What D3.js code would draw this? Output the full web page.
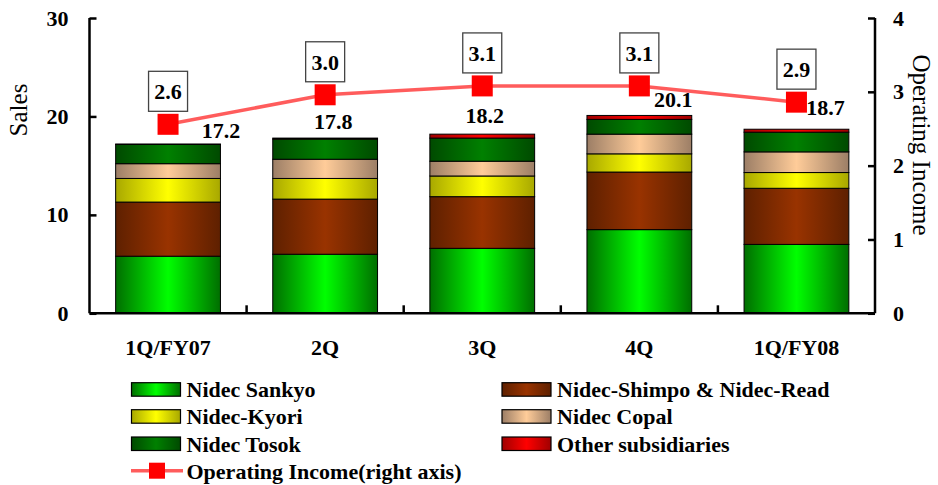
<!DOCTYPE html>
<html><head><meta charset="utf-8">
<script src="https://cdn.jsdelivr.net/npm/d3@7"></script>
<style>body{margin:0;background:#fff}</style>
</head><body><svg id="c" width="938" height="485"></svg>
<script>
const categories = ["1Q/FY07","2Q","3Q","4Q","1Q/FY08"];
const nidecSankyo = [5.8, 6.0, 6.6, 8.5, 7.0];
const nidecShimpoRead = [5.5, 5.6, 5.25, 5.85, 5.7];
const nidecKyori = [2.4, 2.1, 2.1, 1.85, 1.6];
const nidecCopal = [1.5, 1.95, 1.5, 2.0, 2.1];
const nidecTosok = [1.95, 2.05, 2.35, 1.5, 2.0];
const otherSubsidiaries = [0.05, 0.1, 0.4, 0.4, 0.3];
const salesTotals = [17.2, 17.8, 18.2, 20.1, 18.7];
const operatingIncome = [2.56, 2.96, 3.08, 3.08, 2.86];
const salesTicks = [0, 10, 20, 30];
const incomeTicks = [0, 1, 2, 3, 4];
const seriesNames = ["Nidec Sankyo","Nidec-Shimpo & Nidec-Read","Nidec-Kyori","Nidec Copal","Nidec Tosok","Other subsidiaries"];
const lineName = "Operating Income(right axis)";

const seriesValues = [nidecSankyo, nidecShimpoRead, nidecKyori, nidecCopal, nidecTosok, otherSubsidiaries];
const styles = [
  {edge:"#006e00", mid:"#00ff00"},
  {edge:"#5e2000", mid:"#993300"},
  {edge:"#a8a800", mid:"#ffff00"},
  {edge:"#9c7e66", mid:"#ffcc99"},
  {edge:"#004a00", mid:"#008000"},
  {edge:"#a00000", mid:"#ff0000"}
];

const svg = d3.select("#c");
const L = 89.5, R = 875, T = 18, B = 313.3;
const FONT = '"Liberation Serif", "Times New Roman", serif';

function txt(sel, size, bold){
  return sel.style("font-family", FONT).style("font-size", size+"px").style("font-weight", bold ? "bold" : "normal").attr("fill","#000");
}

const defs = svg.append("defs");
styles.forEach((s,i)=>{
  const g = defs.append("linearGradient").attr("id","g"+i).attr("x1","0").attr("x2","1").attr("y1","0").attr("y2","0");
  g.append("stop").attr("offset","0").attr("stop-color",s.edge);
  g.append("stop").attr("offset","0.5").attr("stop-color",s.mid);
  g.append("stop").attr("offset","1").attr("stop-color",s.edge);
});

const x = d3.scaleBand().domain(categories).range([L, R]).paddingInner(0.333).paddingOuter(0.1665);
const y = d3.scaleLinear().domain([0,30]).range([B, T]);
const yR = d3.scaleLinear().domain([0,4]).range([B, T]);

// stacked bars
const rows = categories.map((c,i)=>{ const o={cat:c}; seriesNames.forEach((n,k)=>o[n]=seriesValues[k][i]); return o; });
const stack = d3.stack().keys(seriesNames)(rows);
stack.forEach((layer,k)=>{
  svg.append("g").selectAll("rect").data(layer).join("rect")
    .attr("x", d=>x(d.data.cat))
    .attr("y", d=>y(d[1]))
    .attr("width", x.bandwidth())
    .attr("height", d=>y(d[0])-y(d[1]))
    .attr("fill", "url(#g"+k+")")
    .attr("stroke", "#000").attr("stroke-width", 1);
});

// axes
const axL = svg.append("g").attr("transform",`translate(${L},0)`)
  .call(d3.axisLeft(y).tickValues(salesTicks).tickFormat(d3.format("d")).tickSize(-7).tickPadding(21));
const axR = svg.append("g").attr("transform",`translate(${R},0)`)
  .call(d3.axisRight(yR).tickValues(incomeTicks).tickFormat(d3.format("d")).tickSize(-7).tickPadding(18));
const axB = svg.append("g").attr("transform",`translate(0,${B})`)
  .call(d3.axisBottom(x).tickSize(0).tickPadding(26));
[axL, axR, axB].forEach(a=>{
  a.select(".domain").attr("stroke","#000").attr("stroke-width",2.5);
  a.selectAll(".tick line").attr("stroke","#000").attr("stroke-width",2.5);
  txt(a.selectAll("text"), 22, true);
});
axL.select(".domain").attr("d",`M0,${T}V${B}`);
axR.select(".domain").attr("d",`M0,${T}V${B}`);
axB.select(".domain").attr("d",`M${L},0H${R}`);
// category boundary ticks on x axis
svg.append("g").selectAll("line").data(categories.slice(1)).join("line")
  .attr("x1", d=>x(d)-x.step()*x.paddingInner()/2).attr("x2", d=>x(d)-x.step()*x.paddingInner()/2)
  .attr("y1", B).attr("y2", B-8).attr("stroke","#000").attr("stroke-width",2.5);

// axis titles
txt(svg.append("text").attr("transform","translate(27,110) rotate(-90)").attr("text-anchor","middle"), 25, false).text("Sales");
txt(svg.append("text").attr("transform","translate(913,145) rotate(90)").attr("text-anchor","middle"), 25, false).text("Operating Income");

// totals labels
const totDx = [53, 8, 2.5, 34, 29];
const totDy = [-6, -9, -11.6, -8.3, -14];
txt(svg.append("g").selectAll("text").data(salesTotals).join("text")
  .attr("x",(d,i)=>x(categories[i])+x.bandwidth()/2+totDx[i])
  .attr("y",(d,i)=>y(d)+totDy[i])
  .attr("text-anchor","middle"), 22, true).text(d=>d.toFixed(1));

// operating income line
const cx = i=>x(categories[i])+x.bandwidth()/2;
svg.append("path").datum(operatingIncome)
  .attr("d", d3.line().x((d,i)=>cx(i)).y(d=>yR(d)))
  .attr("fill","none").attr("stroke","#ff4040").attr("stroke-width",3.5).attr("stroke-opacity",0.85);
svg.append("g").selectAll("rect").data(operatingIncome).join("rect")
  .attr("x",(d,i)=>cx(i)-10.5).attr("y",d=>yR(d)-10.5).attr("width",21).attr("height",21).attr("fill","#ff0000");
const boxes = svg.append("g").selectAll("g").data(operatingIncome).join("g");
boxes.append("rect").attr("x",(d,i)=>cx(i)-19.5).attr("y",d=>yR(d)-53).attr("width",39).attr("height",40)
  .attr("fill","#fff").attr("stroke","#444").attr("stroke-width",1.3);
txt(boxes.append("text").attr("x",(d,i)=>cx(i)).attr("y",d=>yR(d)-25).attr("text-anchor","middle"), 22, true)
  .text(d=>d.toFixed(1));

// legend
const legendItems = [
  {k:0,col:0,row:0},{k:1,col:1,row:0},
  {k:2,col:0,row:1},{k:3,col:1,row:1},
  {k:4,col:0,row:2},{k:5,col:1,row:2}
];
const colX = [131.5, 502];
const rowY = [382.7, 409.7, 437];
const lg = svg.append("g");
legendItems.forEach(it=>{
  lg.append("rect").attr("x",colX[it.col]).attr("y",rowY[it.row]).attr("width",49).attr("height",13.5)
    .attr("fill","url(#g"+it.k+")").attr("stroke","#000").attr("stroke-width",1.2);
  txt(lg.append("text").attr("x",colX[it.col]+55).attr("y",rowY[it.row]+14.5), 22, true).text(seriesNames[it.k]);
});
lg.append("line").attr("x1",131).attr("x2",183).attr("y1",470.7).attr("y2",470.7)
  .attr("stroke","#ff4040").attr("stroke-width",3.5).attr("stroke-opacity",0.85);
lg.append("rect").attr("x",149).attr("y",462.7).attr("width",16).attr("height",16).attr("fill","#ff0000");
txt(lg.append("text").attr("x",186.5).attr("y",479), 22, true).text(lineName);
</script></body></html>
